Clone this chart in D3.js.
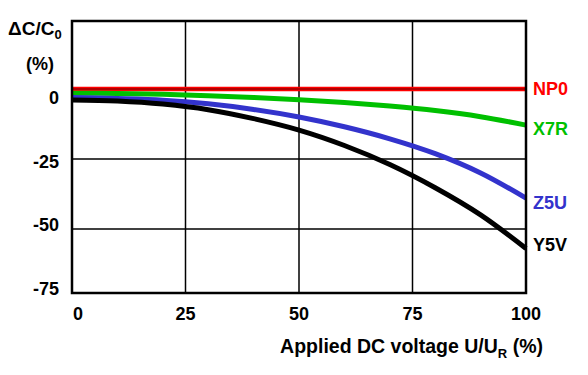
<!DOCTYPE html>
<html>
<head>
<meta charset="utf-8">
<script src="https://cdn.jsdelivr.net/npm/d3@7"></script>
<style>
  body { margin: 0; background: #fff; }
  text { font-family: "Liberation Sans", Arial, sans-serif; font-weight: bold; }
</style>
</head>
<body>
<div id="chart"></div>
<script>
const voltage = [0, 10, 20, 30, 40, 50, 60, 70, 80, 90, 100]
const np0 = [0, 0, 0, 0, 0, 0, 0, 0, 0, 0, 0]
const x7r = [-1.5, -1.6, -1.9, -2.4, -3.0, -3.8, -4.8, -6.1, -7.7, -9.9, -12.9]
const z5u = [-3, -3.4, -4.0, -5.3, -7.3, -10, -13.5, -17.8, -23.1, -30.0, -39]
const y5v = [-3.9, -4.3, -5.4, -7.4, -10.6, -14.7, -20.2, -27, -35.3, -45, -57]
const xTicks = [0, 25, 50, 75, 100]
const yTicks = [0, -25, -50, -75]
const seriesNames = ['NP0', 'X7R', 'Z5U', 'Y5V']
const seriesColors = ['#ff0000', '#00c000', '#3333cc', '#000000']

const margin = {top: 21, right: 62, bottom: 82, left: 72}
const W = 588, H = 375
const width = W - margin.left - margin.right
const height = H - margin.top - margin.bottom

const svg = d3.select('#chart')
  .append('svg')
  .attr('width', W)
  .attr('height', H)
  .append('g')
  .attr('transform', 'translate(' + margin.left + ',' + margin.top + ')')

const x = d3.scaleLinear().domain([0, 100]).range([0, width])
const y = d3.scaleLinear().domain([-72.9, 24.3]).range([height, 0])
// tick labels in the source are spread a little differently from the gridlines
const yLabel = d3.scaleLinear().domain([0, -75]).range([y(0) + 15, height + 2])

// grid
svg.append('g')
  .selectAll('line')
  .data(xTicks.slice(1, -1))
  .enter().append('line')
  .attr('x1', d => x(d)).attr('x2', d => x(d))
  .attr('y1', 0).attr('y2', height)
  .attr('stroke', '#000').attr('stroke-width', 1.5)

svg.append('g')
  .selectAll('line')
  .data([-25, -50])
  .enter().append('line')
  .attr('x1', 0).attr('x2', width)
  .attr('y1', d => y(d)).attr('y2', d => y(d))
  .attr('stroke', '#000').attr('stroke-width', 1.5)

// curves
const series = [np0, x7r, z5u, y5v]
const line = d3.line()
  .x((d, i) => x(voltage[i]))
  .y(d => y(d))
  .curve(d3.curveCatmullRom.alpha(0.5))

svg.append('g')
  .selectAll('path')
  .data(series)
  .enter().append('path')
  .attr('d', line)
  .attr('fill', 'none')
  .attr('stroke', (d, i) => seriesColors[i])
  .attr('stroke-width', (d, i) => i === 0 ? 4.5 : 5)

// zero line sits on top of NP0
svg.append('line')
  .attr('x1', 0).attr('x2', width)
  .attr('y1', y(0)).attr('y2', y(0))
  .attr('stroke', '#600').attr('stroke-width', 1.2)

// frame
svg.append('rect')
  .attr('width', width).attr('height', height)
  .attr('fill', 'none').attr('stroke', '#000').attr('stroke-width', 2.5)

// series labels, nudged off their line ends as in the source
const labelShift = [0, 4, 5, -4]
svg.append('g')
  .selectAll('text')
  .data(seriesNames)
  .enter().append('text')
  .attr('x', width + 7)
  .attr('y', (d, i) => y(series[i][series[i].length - 1]) + labelShift[i])
  .attr('dy', '0.35em')
  .attr('fill', (d, i) => seriesColors[i])
  .attr('font-size', 18)
  .text(d => d)

// x tick labels
svg.append('g')
  .selectAll('text')
  .data(xTicks)
  .enter().append('text')
  .attr('x', d => x(d) + (d === 0 ? 6 : 0))
  .attr('y', height + 27)
  .attr('text-anchor', 'middle')
  .attr('font-size', 18)
  .text(d => d)

// y tick labels
svg.append('g')
  .selectAll('text')
  .data(yTicks)
  .enter().append('text')
  .attr('x', -13)
  .attr('y', d => yLabel(d))
  .attr('text-anchor', 'end')
  .attr('font-size', 18)
  .text(d => d)

// axis titles
const xt = svg.append('text')
  .attr('x', width + 17)
  .attr('y', height + 60)
  .attr('text-anchor', 'end')
  .attr('font-size', 19.5)
xt.append('tspan').text('Applied DC voltage U/U')
xt.append('tspan').attr('font-size', 13).attr('dy', 5).text('R')
xt.append('tspan').attr('dy', -5).text(' (%)')

const yt = svg.append('text')
  .attr('x', -64)
  .attr('y', 14)
  .attr('font-size', 19)
yt.append('tspan').text('ΔC/C')
yt.append('tspan').attr('font-size', 13).attr('dy', 4).text('0')

svg.append('text')
  .attr('x', -32)
  .attr('y', 49)
  .attr('text-anchor', 'middle')
  .attr('font-size', 18)
  .text('(%)')
</script>
</body>
</html>
